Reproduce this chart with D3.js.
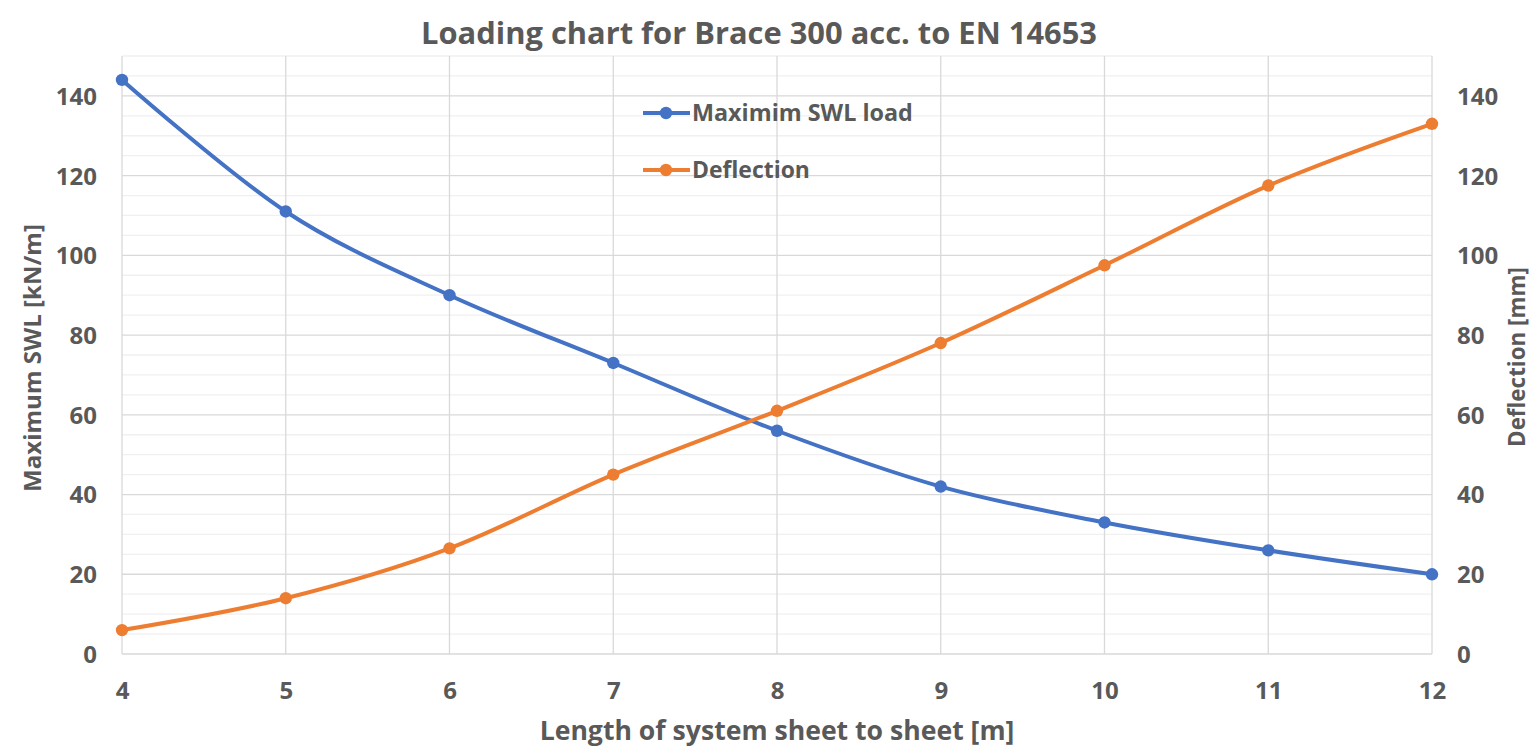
<!DOCTYPE html>
<html><head><meta charset="utf-8">
<script src="https://cdn.jsdelivr.net/npm/d3@7"></script>
<style>body{margin:0;background:#fff;} text{font-family:"Open Sans",sans-serif;font-weight:700;fill:#595959;} .tick text{font-size:24px;}</style>
</head><body>
<svg id="c" width="1536" height="751"></svg>
<script>
const lengths = [4,5,6,7,8,9,10,11,12];
const swlLoad = [144,111,90,73,56,42,33,26,20];
const deflection = [6,14,26.5,45,61,78,97.5,117.5,133];
const yTicks = [0,20,40,60,80,100,120,140];
const xTicks = [4,5,6,7,8,9,10,11,12];
const seriesNames = ["Maximim SWL load","Deflection"];
const titleText = "Loading chart for Brace 300 acc. to EN 14653";
const xTitle = "Length of system sheet to sheet [m]";
const yLeftTitle = "Maximum SWL [kN/m]";
const yRightTitle = "Deflection [mm]";

const svg = d3.select("#c");
const L=122,R=1432,T=56,B=654;
const x = d3.scaleLinear().domain([4,12]).range([L,R]);
const yL = d3.scaleLinear().domain([0,150]).range([B,T]);
const yR = d3.scaleLinear().domain([0,150]).range([B,T]);
const blue="#4472C4", orange="#ED7D31";

function fit(sel, w){
  const n = sel.node(); let fs = parseFloat(sel.attr("font-size"));
  const len = n.getComputedTextLength();
  sel.attr("font-size", fs*w/len);
}

const minor = d3.range(0,151,5).filter(v=>v%20!==0);
svg.append("g").selectAll("line").data(minor).join("line")
  .attr("x1",L).attr("x2",R).attr("y1",d=>yL(d)).attr("y2",d=>yL(d))
  .attr("stroke","#f0f0f0").attr("stroke-width",1.3);
svg.append("g").selectAll("line").data(yTicks).join("line")
  .attr("x1",L).attr("x2",R).attr("y1",d=>yL(d)).attr("y2",d=>yL(d))
  .attr("stroke","#d9d9d9").attr("stroke-width",1.3);
svg.append("g").selectAll("line").data(xTicks).join("line")
  .attr("x1",d=>x(d)).attr("x2",d=>x(d)).attr("y1",T).attr("y2",B)
  .attr("stroke","#d9d9d9").attr("stroke-width",1.3);

const axL = svg.append("g").attr("transform",`translate(${L},0)`)
  .call(d3.axisLeft(yL).tickValues(yTicks).tickSize(0).tickPadding(25));
const axR = svg.append("g").attr("transform",`translate(${R},0)`)
  .call(d3.axisRight(yR).tickValues(yTicks).tickSize(0).tickPadding(25));
const axB = svg.append("g").attr("transform",`translate(0,${B})`)
  .call(d3.axisBottom(x).tickValues(xTicks).tickSize(0).tickPadding(28));
[axL,axR,axB].forEach(a=>{a.select(".domain").remove();
  a.attr("font-size",null).attr("font-family",null);
  a.selectAll("text").attr("fill","#595959");});
axL.selectAll("text").attr("dy","0.35em");
axR.selectAll("text").attr("dy","0.35em");

const curve = d3.curveCardinal.tension(0);
const dataA = lengths.map((d,i)=>[d,swlLoad[i]]);
const dataB = lengths.map((d,i)=>[d,deflection[i]]);
svg.append("path").datum(dataA).attr("fill","none").attr("stroke",blue).attr("stroke-width",4)
  .attr("stroke-linejoin","round").attr("d",d3.line().x(d=>x(d[0])).y(d=>yL(d[1])).curve(curve));
svg.append("path").datum(dataB).attr("fill","none").attr("stroke",orange).attr("stroke-width",4)
  .attr("stroke-linejoin","round").attr("d",d3.line().x(d=>x(d[0])).y(d=>yR(d[1])).curve(curve));
svg.append("g").selectAll("circle").data(dataA).join("circle")
  .attr("cx",d=>x(d[0])).attr("cy",d=>yL(d[1])).attr("r",6.2).attr("fill",blue);
svg.append("g").selectAll("circle").data(dataB).join("circle")
  .attr("cx",d=>x(d[0])).attr("cy",d=>yR(d[1])).attr("r",6.2).attr("fill",orange);

const lg = svg.append("g");
[[seriesNames[0],blue,113,221],[seriesNames[1],orange,170,118]].forEach(([t,c,yy,w])=>{
  lg.append("line").attr("x1",643).attr("x2",690).attr("y1",yy).attr("y2",yy).attr("stroke",c).attr("stroke-width",4);
  lg.append("circle").attr("cx",666).attr("cy",yy).attr("r",6.2).attr("fill",c);
  const tx = lg.append("text").attr("x",692).attr("y",yy).attr("dy","0.35em").attr("font-size",22).text(t);
  fit(tx,w);
});

const tt = svg.append("text").attr("x",759).attr("y",33).attr("dy","0.35em").attr("text-anchor","middle").attr("font-size",28).text(titleText);
fit(tt,676);
const xt = svg.append("text").attr("x",777).attr("y",731).attr("dy","0.35em").attr("text-anchor","middle").attr("font-size",24).text(xTitle);
fit(xt,475);
const lt = svg.append("text").attr("transform","translate(33,358) rotate(-90)").attr("dy","0.35em").attr("text-anchor","middle").attr("font-size",22).text(yLeftTitle);
fit(lt,268);
const rt = svg.append("text").attr("transform","translate(1517,357) rotate(-90)").attr("dy","0.35em").attr("text-anchor","middle").attr("font-size",22).text(yRightTitle);
fit(rt,180);
</script>
</body></html>
